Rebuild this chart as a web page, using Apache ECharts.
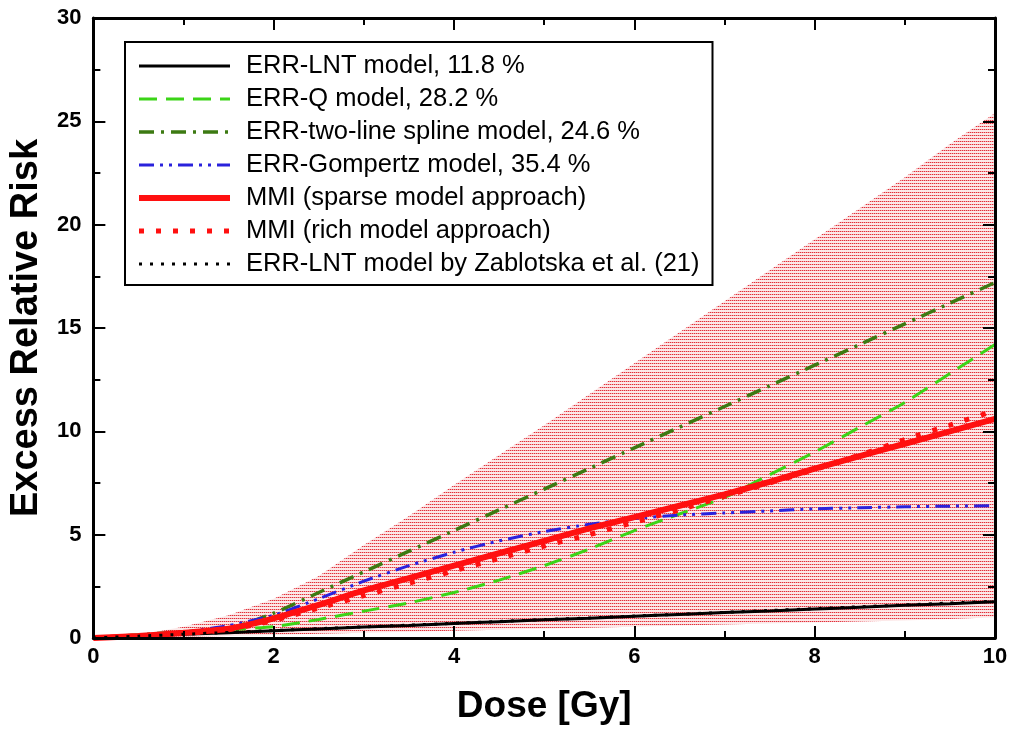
<!DOCTYPE html>
<html>
<head>
<meta charset="utf-8">
<script src="https://cdn.jsdelivr.net/npm/echarts@6/dist/echarts.min.js"></script>
<style>
  html, body { margin: 0; padding: 0; background: #fff; }
  #chart { width: 1016px; height: 730px; }
</style>
</head>
<body>
<div id="chart"></div>
<script>
var dose = [0, 0.5, 1, 1.5, 2, 2.5, 3, 3.5, 4, 4.5, 5, 5.5, 6, 6.5, 7, 7.5, 8, 8.5, 9, 9.5, 10];

var errLnt = [0, 0.09, 0.18, 0.26, 0.35, 0.44, 0.53, 0.61, 0.7, 0.79, 0.88, 0.96, 1.05, 1.14, 1.23, 1.31, 1.4, 1.49, 1.58, 1.66, 1.75];
var errQ = [0, 0.1, 0.25, 0.4, 0.55, 0.9, 1.3, 1.7, 2.2, 2.8, 3.5, 4.3, 5.2, 6.0, 6.8, 7.9, 9.0, 10.2, 11.4, 12.8, 14.2];
var errSpline = [0, 0.15, 0.3, 0.45, 1.2, 2.2, 3.2, 4.2, 5.2, 6.2, 7.2, 8.2, 9.2, 10.2, 11.2, 12.2, 13.2, 14.2, 15.2, 16.2, 17.2];
var errGompertz = [0, 0.1, 0.3, 0.6, 1.1, 1.9, 2.75, 3.5, 4.15, 4.7, 5.15, 5.5, 5.78, 5.95, 6.05, 6.15, 6.25, 6.3, 6.35, 6.38, 6.4];
var mmiSparse = [0, 0.1, 0.25, 0.45, 0.95, 1.6, 2.3, 2.9, 3.5, 4.1, 4.7, 5.3, 5.85, 6.4, 6.95, 7.55, 8.2, 8.8, 9.4, 10.0, 10.6];
var mmiRich = [0, 0.1, 0.22, 0.4, 0.85, 1.45, 2.05, 2.65, 3.25, 3.85, 4.45, 5.0, 5.6, 6.2, 6.85, 7.5, 8.15, 8.85, 9.6, 10.3, 11.0];
var lntZablotska = [0, 0.09, 0.18, 0.27, 0.36, 0.45, 0.54, 0.62, 0.71, 0.8, 0.89, 0.97, 1.06, 1.15, 1.24, 1.33, 1.42, 1.51, 1.6, 1.69, 1.78];

// uncertainty band of MMI
var bandUpper = [0, 0.15, 0.55, 1.1, 1.9, 3.0, 4.5, 5.9, 7.4, 8.85, 10.3, 11.8, 13.3, 14.8, 16.3, 17.8, 19.3, 20.8, 22.3, 23.9, 25.4];
var bandLower = [0, 0.03, 0.07, 0.1, 0.15, 0.2, 0.25, 0.3, 0.35, 0.4, 0.45, 0.5, 0.55, 0.6, 0.65, 0.7, 0.75, 0.8, 0.85, 0.92, 1.0];

var legendNames = [
    'ERR-LNT model, 11.8 %',
    'ERR-Q model, 28.2 %',
    'ERR-two-line spline model, 24.6 %',
    'ERR-Gompertz model, 35.4 %',
    'MMI (sparse model approach)',
    'MMI (rich model approach)',
    'ERR-LNT model by Zablotska et al. (21)'
];

function pairs(ys) {
    return dose.map(function (d, i) { return [d, ys[i]]; });
}

// hatch pattern for the band
var hatch = document.createElement('canvas');
hatch.width = 4;
hatch.height = 3;
var hctx = hatch.getContext('2d');
hctx.fillStyle = '#fce8e8';
hctx.fillRect(0, 0, 4, 3);
hctx.fillStyle = '#e0303a';
hctx.fillRect(0, 0, 1, 1);
hctx.fillRect(2, 0, 1, 1);
hctx.fillStyle = '#f4a4a8';
hctx.fillRect(1, 0, 1, 1);
hctx.fillRect(3, 0, 1, 1);

var font = 'Liberation Sans';

var dom = document.getElementById('chart');
var myChart = echarts.init(dom);

function axisCommon(showLabel) {
    return {
        z: 10,
        axisLine: { show: true, onZero: false, lineStyle: { color: '#000', width: 3 } },
        axisTick: { show: true, inside: true, length: 12, lineStyle: { color: '#000', width: 2 } },
        minorTick: { show: true, splitNumber: 2, length: 7, lineStyle: { color: '#000', width: 2 } },
        splitLine: { show: false },
        axisLabel: {
            show: showLabel,
            color: '#000',
            fontFamily: font,
            fontWeight: 'bold',
            fontSize: 22
        }
    };
}

var xBottom = Object.assign(axisCommon(true), {
    type: 'value', position: 'bottom', min: 0, max: 10, interval: 2,
    name: 'Dose [Gy]', nameLocation: 'middle', nameGap: 50,
    nameTextStyle: { color: '#000', fontFamily: font, fontWeight: 'bold', fontSize: 37 }
});
xBottom.axisLabel.margin = 8;
var xTop = Object.assign(axisCommon(false), {
    type: 'value', position: 'top', min: 0, max: 10, interval: 2
});
var yLeft = Object.assign(axisCommon(true), {
    type: 'value', position: 'left', min: 0, max: 30, interval: 5,
    name: 'Excess Relative Risk', nameLocation: 'middle', nameGap: 35,
    nameTextStyle: { color: '#000', fontFamily: font, fontWeight: 'bold', fontSize: 38 }
});
yLeft.axisLabel.margin = 12;
var yRight = Object.assign(axisCommon(false), {
    type: 'value', position: 'right', min: 0, max: 30, interval: 5
});

function lineSeries(name, ys, color, width, dash, z) {
    return {
        name: name,
        type: 'line',
        data: pairs(ys),
        showSymbol: false,
        symbol: 'circle',
        smooth: 0.2,
        z: z,
        lineStyle: { color: color, width: width, type: dash, cap: 'butt' },
        itemStyle: { color: color }
    };
}

option = {
    animation: false,
    backgroundColor: '#fff',
    grid: { left: 90, right: 21, top: 18, bottom: 80 },
    xAxis: [xBottom, xTop],
    yAxis: [yLeft, yRight],
    legend: {
        data: legendNames,
        orient: 'vertical',
        left: 125,
        top: 42,
        z: 20,
        padding: [11, 13, 8, 11],
        itemGap: 7,
        itemWidth: 91,
        itemHeight: 14,
        borderColor: '#000',
        borderWidth: 2,
        backgroundColor: '#fff',
        selectedMode: false,
        itemStyle: { opacity: 0 },
        lineStyle: { width: 'inherit' },
        textStyle: {
            color: '#000',
            fontFamily: font,
            fontSize: 25.5,
            lineHeight: 24,
            padding: [0, 0, 0, 11]
        }
    },
    series: [
        {
            name: 'bandUpper',
            type: 'line',
            data: pairs(bandUpper),
            symbol: 'none',
            lineStyle: { opacity: 0 },
            areaStyle: { color: { image: hatch, repeat: 'repeat' }, opacity: 1 },
            z: 1
        },
        {
            name: 'bandLower',
            type: 'line',
            data: pairs(bandLower),
            symbol: 'none',
            lineStyle: { opacity: 0 },
            areaStyle: { color: '#ffffff', opacity: 1 },
            z: 2
        },
        lineSeries(legendNames[0], errLnt, '#000000', 3, 'solid', 5),
        lineSeries(legendNames[1], errQ, '#3bd417', 3, [18, 9], 5),
        lineSeries(legendNames[2], errSpline, '#3c7a12', 3.5, [15, 7, 3, 7], 5),
        lineSeries(legendNames[3], errGompertz, '#2a22dc', 3, [15, 6, 3, 6, 3, 6], 5),
        lineSeries(legendNames[4], mmiSparse, '#ff1010', 6, 'solid', 6),
        lineSeries(legendNames[5], mmiRich, '#ff1010', 5, [5, 12], 6),
        lineSeries(legendNames[6], lntZablotska, '#000000', 3, [3, 8], 7)
    ]
};

if (option && typeof option === 'object') {
    myChart.setOption(option, true);
}
</script>
</body>
</html>
